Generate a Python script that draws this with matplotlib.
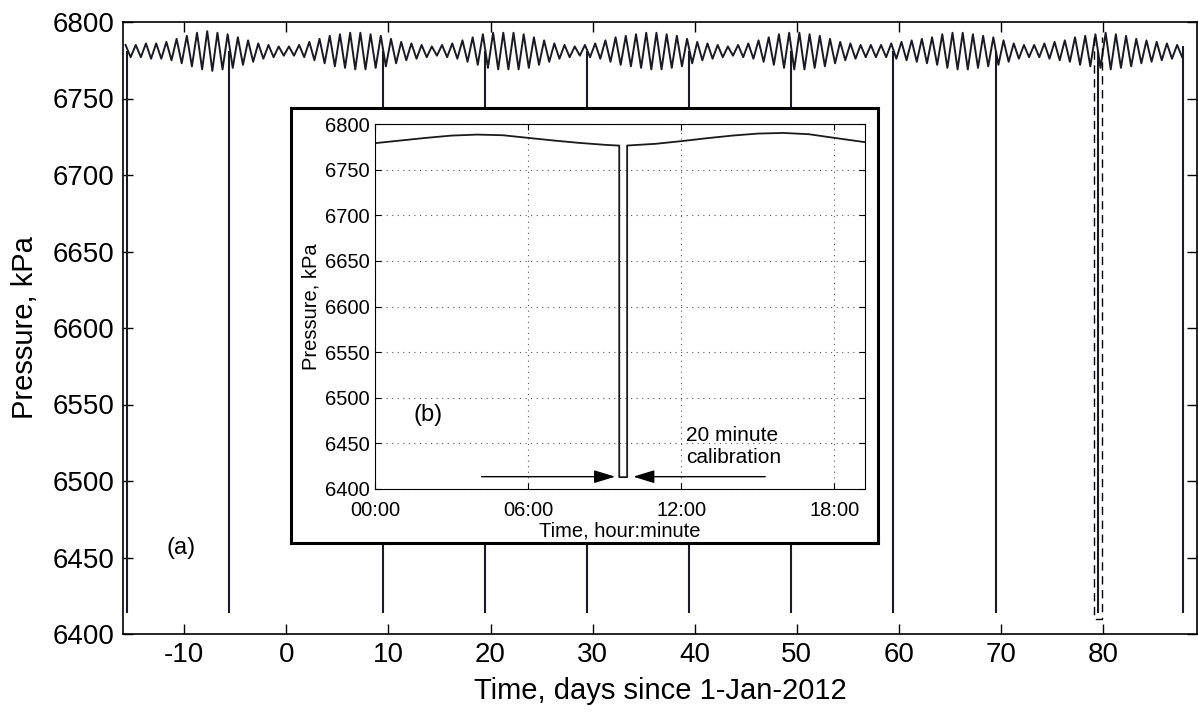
import matplotlib
matplotlib.use("Agg")
import matplotlib.pyplot as plt
import numpy as np

plt.rcParams['font.family'] = ['Liberation Sans', 'DejaVu Sans']
plt.rcParams['axes.unicode_minus'] = False

# ---------- main record (a): daily tidal high / low, kPa ----------
tide_day = np.arange(-16, 88)
tide_high = [6785, 6785, 6786, 6786, 6787,
             6789, 6791, 6793, 6794, 6793,
             6792, 6790, 6788, 6786, 6785,
             6784, 6784, 6785, 6787, 6789,
             6791, 6792, 6793, 6793, 6792,
             6791, 6789, 6787, 6786, 6785,
             6784, 6785, 6786, 6788, 6790,
             6792, 6793, 6793, 6793, 6792,
             6790, 6788, 6786, 6785, 6784,
             6785, 6786, 6788, 6790, 6791,
             6792, 6793, 6793, 6792, 6791,
             6789, 6787, 6786, 6785, 6784,
             6785, 6786, 6788, 6790, 6792,
             6793, 6793, 6792, 6791, 6789,
             6787, 6786, 6785, 6785, 6785,
             6786, 6787, 6788, 6789, 6790,
             6792, 6793, 6793, 6792, 6791,
             6790, 6788, 6786, 6785, 6785,
             6786, 6787, 6788, 6790, 6791,
             6792, 6793, 6792, 6791, 6789,
             6788, 6787, 6786, 6785]
tide_low = [6777, 6777, 6776, 6776, 6775,
            6773, 6771, 6769, 6768, 6769,
            6770, 6772, 6774, 6776, 6777,
            6778, 6778, 6777, 6775, 6773,
            6771, 6770, 6769, 6769, 6770,
            6771, 6773, 6775, 6776, 6777,
            6778, 6777, 6776, 6774, 6772,
            6770, 6769, 6769, 6769, 6770,
            6772, 6774, 6776, 6777, 6778,
            6777, 6776, 6774, 6772, 6771,
            6770, 6769, 6769, 6770, 6771,
            6773, 6775, 6776, 6777, 6778,
            6777, 6776, 6774, 6772, 6770,
            6769, 6769, 6770, 6771, 6773,
            6775, 6776, 6777, 6777, 6777,
            6776, 6775, 6774, 6773, 6772,
            6770, 6769, 6769, 6770, 6771,
            6772, 6774, 6776, 6777, 6777,
            6776, 6775, 6774, 6772, 6771,
            6770, 6769, 6770, 6771, 6773,
            6774, 6775, 6776, 6777]

# calibration drops (and end of record), days since 1-Jan-2012
cal_days = [-15.6, -5.65, 9.43, 19.49, 29.45, 39.47, 49.43, 59.38, 69.5, 79.5, 87.82]
cal_top = [6781, 6781, 6781, 6781, 6781, 6781, 6781, 6781, 6781, 6781, 6784]
cal_bottom = 6414

# dashed box marking the day shown in the inset
zoom_days = [79.07, 79.89]
zoom_kpa = [6410, 6790]

# ---------- inset (b): one day, hours ----------
inset_hours = [0, 1, 2, 3, 4, 5, 6, 7, 8, 9, 9.5, 9.57, 9.57, 9.88, 9.88,
               11, 12, 13, 14, 15, 16, 17, 18, 19.2]
inset_kpa = [6779.0, 6781.9, 6784.8, 6787.3, 6788.4, 6787.7, 6784.8, 6781.9,
             6779.3, 6777.2, 6776.4, 6776.4, 6413, 6413, 6776.4,
             6778.3, 6781.2, 6784.4, 6787.3, 6789.5, 6790.2, 6788.8, 6784.8, 6780.1]
inset_xticks = [0, 6, 12, 18]
inset_xlabels = ["00:00", "06:00", "12:00", "18:00"]
arrow_kpa = 6413.5
arrow_left = (4.18, 9.41)
arrow_right = (15.29, 10.12)

W, H = 1198, 715
fig = plt.figure(figsize=(W / 100, H / 100), dpi=100)

# ---------- main axes ----------
ax = fig.add_axes([123 / W, 1 - 634 / H, 1074 / W, 612 / H])
t = np.column_stack([tide_day + 0.25, tide_day + 0.75]).ravel()
p = np.column_stack([tide_high, tide_low]).ravel()
ax.plot(t, p, color="#1a1a22", lw=1.4)
ax.vlines(cal_days, cal_bottom, cal_top, color="#1a1a22", lw=1.5)
ax.plot([zoom_days[0], zoom_days[0], zoom_days[1], zoom_days[1]],
        [zoom_kpa[1], zoom_kpa[0], zoom_kpa[0], zoom_kpa[1]],
        color="k", lw=1.0, ls=(0, (6, 4)))
ax.set_xlim(-16, 89.2)
ax.set_ylim(6400, 6800)
ax.set_xticks(np.arange(-10, 90, 10))
ax.set_yticks(np.arange(6400, 6801, 50))
ax.tick_params(direction="in", length=7, width=1, top=True, right=True,
               labelsize=20, pad=6)
for s in ax.spines.values():
    s.set_linewidth(1.2)
ax.set_xlabel("Time, days since 1-Jan-2012", fontsize=21, labelpad=6)
ax.set_ylabel("Pressure, kPa", fontsize=21, labelpad=10)
ax.text(-10.3, 6456, "(a)", fontsize=17, ha="center", va="center")

# ---------- inset frame ----------
box = fig.add_axes([290.7 / W, 1 - 543 / H, 587.3 / W, 435 / H])
box.set_xticks([])
box.set_yticks([])
for s in box.spines.values():
    s.set_linewidth(2.2)

# ---------- inset axes ----------
ins = fig.add_axes([375 / W, 1 - 489 / H, 490 / W, 365 / H])
ins.plot(inset_hours, inset_kpa, color="#1a1a1a", lw=1.3)
ins.set_xlim(0, 19.2)
ins.set_ylim(6400, 6800)
ins.set_xticks(inset_xticks)
ins.set_xticklabels(inset_xlabels)
ins.set_yticks(np.arange(6400, 6801, 50))
ins.grid(True, color="0.35", lw=0.8, ls=(0, (1, 4)))
ins.tick_params(direction="in", length=4, width=0.8, top=True, right=True,
                labelsize=14.5, pad=4)
ins.tick_params(axis="x", pad=9)
ins.set_xlabel("Time, hour:minute", fontsize=14.5, labelpad=1)
ins.set_ylabel("Pressure, kPa", fontsize=14.5, labelpad=3)
ins.text(2.08, 6481, "(b)", fontsize=17, ha="center", va="center")
ins.text(12.2, 6447, "20 minute\ncalibration", fontsize=15, ha="left",
         va="center", linespacing=1.2)
arrow_style = dict(arrowstyle="-|>,head_length=1.3,head_width=0.4",
                   color="k", lw=1.0, shrinkA=0, shrinkB=0)
ins.annotate("", xy=(arrow_left[1], arrow_kpa), xytext=(arrow_left[0], arrow_kpa),
             arrowprops=arrow_style)
ins.annotate("", xy=(arrow_right[1], arrow_kpa), xytext=(arrow_right[0], arrow_kpa),
             arrowprops=arrow_style)

fig.savefig("out.png", dpi=100)
